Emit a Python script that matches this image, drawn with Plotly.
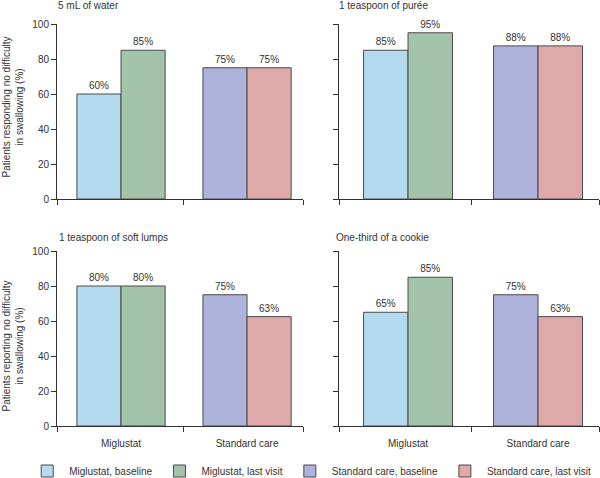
import plotly.graph_objects as go

# ---- data ----
groups = ["Miglustat", "Standard care"]
series_names = ["Miglustat, baseline", "Miglustat, last visit",
                "Standard care, baseline", "Standard care, last visit"]
series_group = [0, 0, 1, 1]          # index into groups
series_side = [-1, 0, -1, 0]         # left / right bar of a pair
series_colors = ["#B3DAEF", "#A3C4A9", "#AEB3DC", "#DFA9A9"]

panel_titles = ["5 mL of water", "1 teaspoon of purée",
                "1 teaspoon of soft lumps", "One-third of a cookie"]
water = [60, 85, 75, 75]
puree = [85, 95, 87.5, 87.5]
soft_lumps = [80, 80, 75, 62.5]
cookie = [65, 85, 75, 62.5]
panel_values = [water, puree, soft_lumps, cookie]

y_titles = ["Patients responding no difficulty<br>in swallowing (%)",
            "Patients reporting no difficulty<br>in swallowing (%)"]
y_ticks = [0, 20, 40, 60, 80, 100]

W, H = 600, 478
FONT = "Liberation Sans, Arial, sans-serif"
TXT = "#333333"

# panel geometry (pixels)
xdom_px = [(57, 303), (339, 599), (57, 303), (339, 599)]
ydom_px = [(24, 199), (24, 199), (251, 426), (251, 426)]
xranges = [(-0.508, 1.444), (-0.531, 1.469), (-0.508, 1.444), (-0.531, 1.469)]
mid_tick = [0.492, 0.492, 0.492, 0.492]
bar_w = [0.35, 0.342, 0.35, 0.342]

fig = go.Figure()
layout = dict(
    width=W, height=H, margin=dict(l=0, r=0, t=0, b=0, autoexpand=False),
    paper_bgcolor="white", plot_bgcolor="white",
    barmode="overlay", font=dict(family=FONT, size=10, color=TXT),
    showlegend=True,
    legend=dict(orientation="h", x=0.042, y=1 - 471 / H, xanchor="left", yanchor="middle",
                font=dict(size=10, color=TXT), traceorder="normal", itemwidth=34),
)
annotations = []

for p in range(4):
    ax = "" if p == 0 else str(p + 1)
    vals = panel_values[p]
    for s in range(4):
        v = vals[s]
        fig.add_trace(go.Bar(
            x=[series_group[s]], y=[v],
            width=bar_w[p], offset=series_side[s] * bar_w[p],
            marker=dict(color=series_colors[s], line=dict(color="#4a4a4a", width=1)),
            text=[f"{int(v + 0.5)}%"], textposition="outside",
            textfont=dict(size=10, color=TXT), cliponaxis=False,
            name=series_names[s], showlegend=(p == 0),
            xaxis="x" + ax, yaxis="y" + ax,
        ))
    x0, x1 = xdom_px[p]
    y0, y1 = ydom_px[p]
    r0, r1 = xranges[p]
    bottom = p >= 2
    left = p % 2 == 0
    layout["xaxis" + ax] = dict(
        domain=[x0 / W, x1 / W], range=[r0, r1], anchor="y" + ax,
        tickmode="array", tickvals=list(range(len(groups))),
        ticktext=groups if bottom else ["", ""],
        ticks="outside", ticklen=8, tickcolor="rgba(0,0,0,0)",
        showline=True, linecolor="#333333", linewidth=1,
        showgrid=False, zeroline=False, fixedrange=True,
        tickfont=dict(size=10, color=TXT),
        minor=dict(tickmode="array", tickvals=[r0, mid_tick[p], r1],
                   ticks="outside", ticklen=5, tickcolor="#333333", showgrid=False),
    )
    layout["yaxis" + ax] = dict(
        domain=[1 - y1 / H, 1 - y0 / H], range=[0, 100], anchor="x" + ax,
        tickmode="array", tickvals=y_ticks, showticklabels=left,
        ticks="outside", ticklen=5, tickcolor="#333333",
        showline=True, linecolor="#333333", linewidth=1,
        showgrid=False, zeroline=False, fixedrange=True,
        tickfont=dict(size=10, color=TXT),
    )

title_pos = [(56, 5), (337, 5), (57, 237), (334, 237)]
for p in range(4):
    tx, ty = title_pos[p]
    annotations.append(dict(text=panel_titles[p], x=tx / W, y=1 - ty / H,
                            xref="paper", yref="paper", xanchor="left", yanchor="middle",
                            showarrow=False, font=dict(size=10, color=TXT)))

ytitle_y = [107, 346]
for i in range(2):
    annotations.append(dict(text=y_titles[i], x=12.5 / W, y=1 - ytitle_y[i] / H,
                            xref="paper", yref="paper", xanchor="center", yanchor="middle",
                            textangle=-90, showarrow=False,
                            font=dict(size=10, color=TXT)))

layout["annotations"] = annotations
fig.update_layout(**layout)
fig.write_html("out.html", config={"displayModeBar": False},
               post_script="document.body.style.margin='0px';document.body.style.overflow='hidden';")
